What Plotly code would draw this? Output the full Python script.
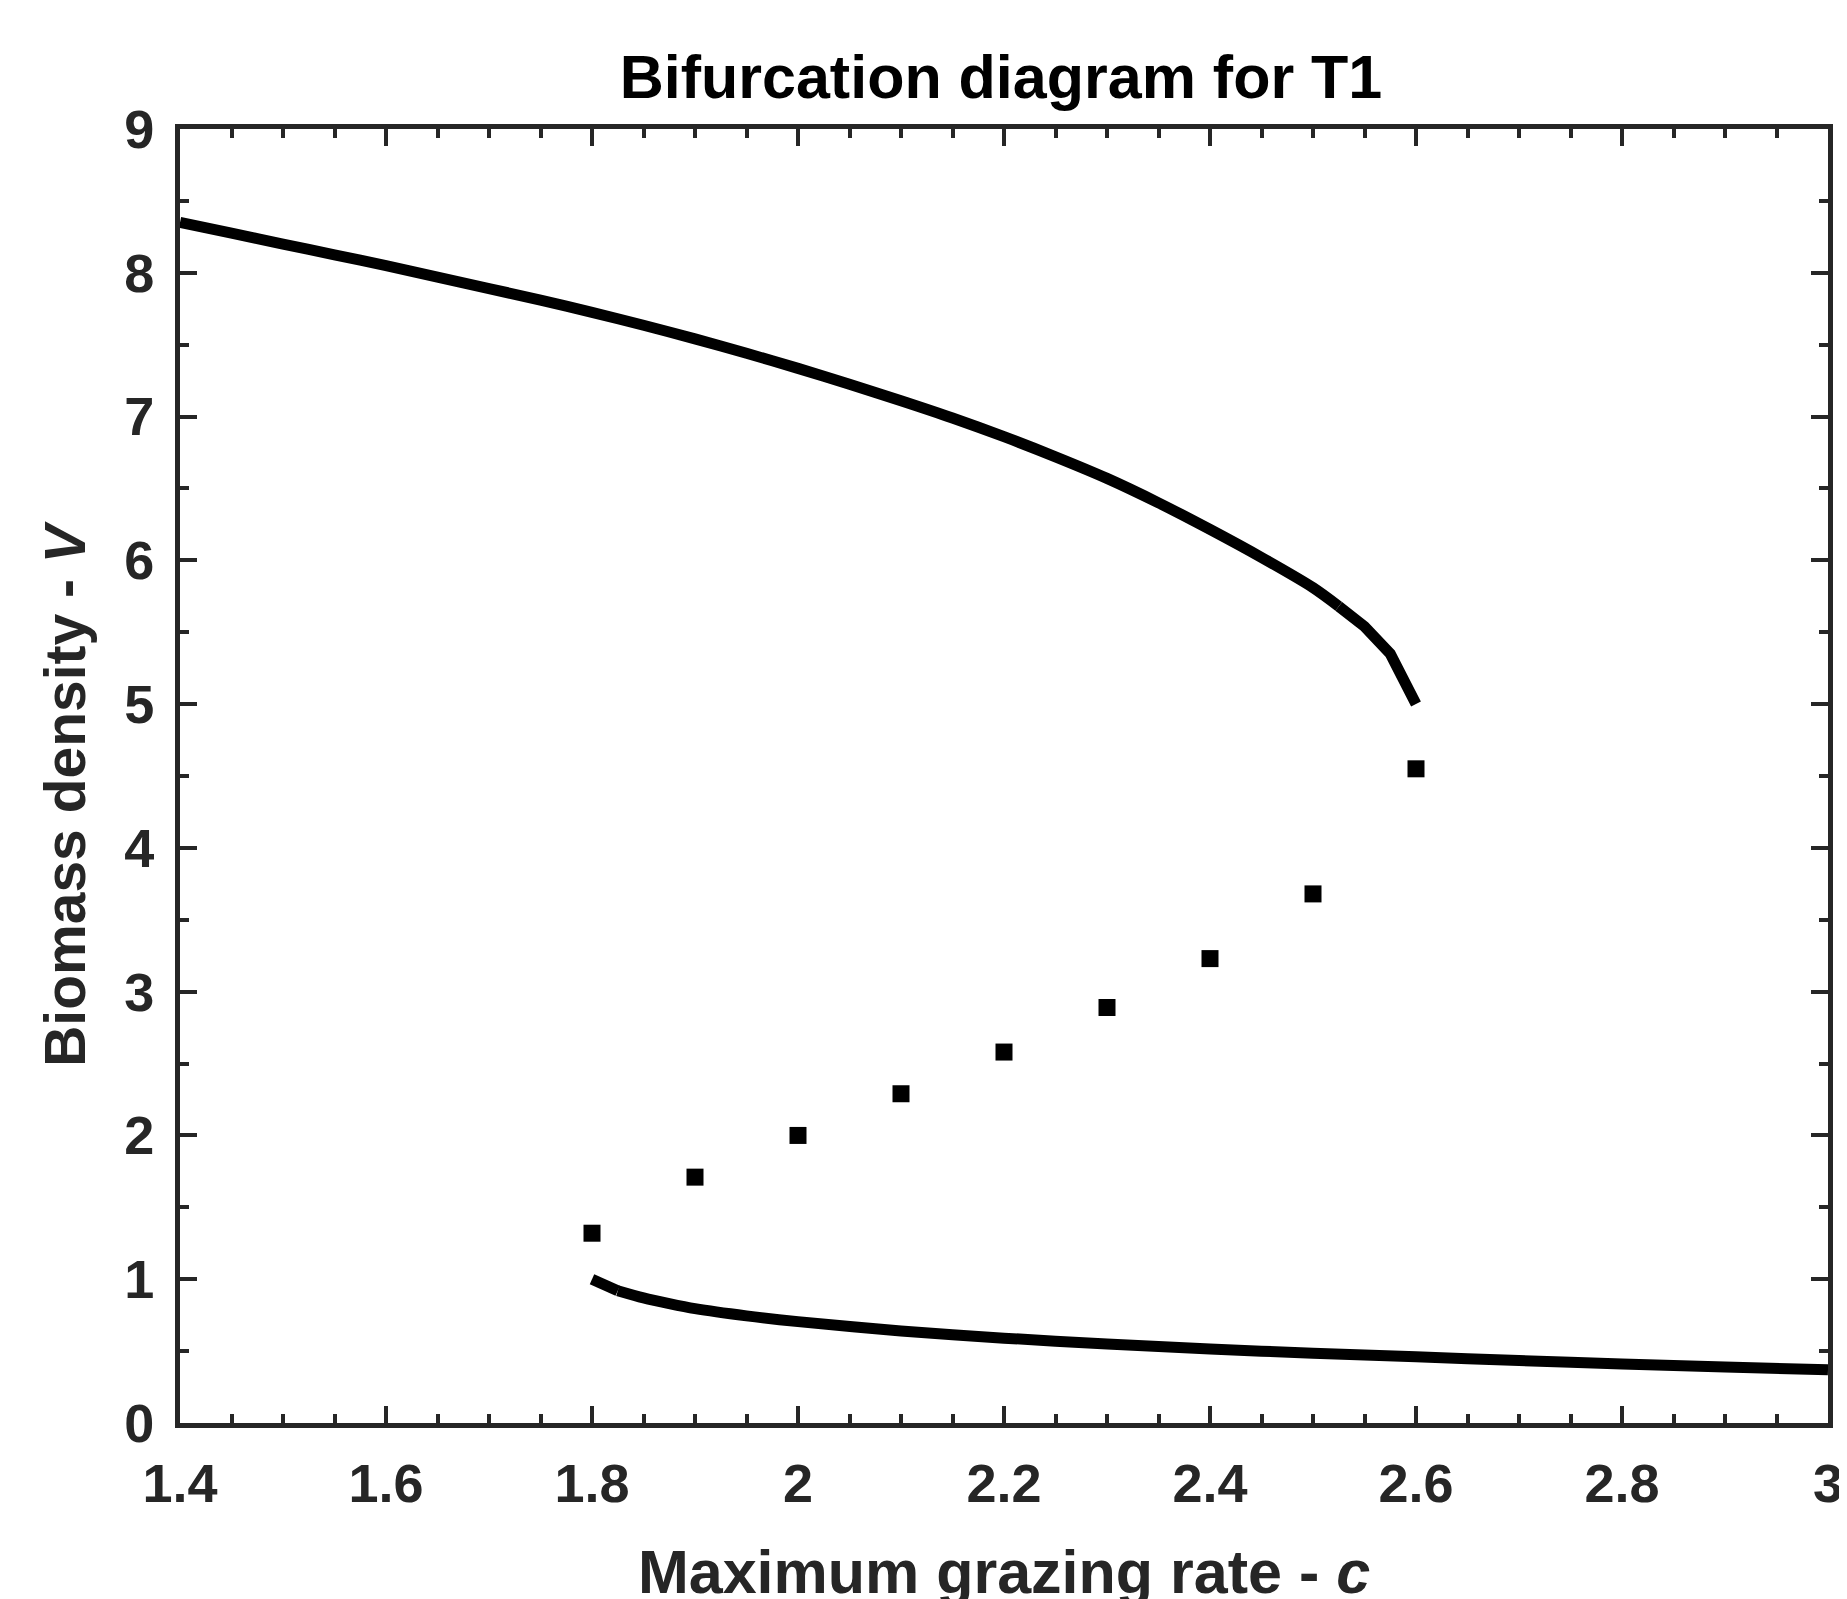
import plotly.graph_objects as go

# Stable upper branch
c_upper = [1.40, 1.45, 1.50, 1.55, 1.60, 1.65, 1.70, 1.75, 1.80, 1.85, 1.90, 1.95,
           2.00, 2.05, 2.10, 2.15, 2.20, 2.25, 2.30, 2.35, 2.40, 2.45, 2.50,
           2.525, 2.55, 2.575, 2.60]
v_upper = [8.35, 8.275, 8.20, 8.125, 8.05, 7.97, 7.89, 7.81, 7.725, 7.635, 7.54, 7.44,
           7.335, 7.225, 7.11, 6.99, 6.86, 6.72, 6.57, 6.40, 6.215, 6.02, 5.81,
           5.68, 5.54, 5.35, 5.00]

# Stable lower branch
c_lower = [1.80, 1.825, 1.85, 1.875, 1.90, 1.95, 2.00, 2.10, 2.20, 2.30, 2.40,
           2.50, 2.60, 2.70, 2.80, 2.90, 3.00]
v_lower = [1.00, 0.92, 0.87, 0.83, 0.795, 0.745, 0.705, 0.64, 0.59, 0.55, 0.515,
           0.485, 0.46, 0.435, 0.41, 0.39, 0.37]

# Unstable branch (squares)
c_unstable = [1.8, 1.9, 2.0, 2.1, 2.2, 2.3, 2.4, 2.5, 2.6]
v_unstable = [1.32, 1.71, 2.00, 2.29, 2.58, 2.89, 3.23, 3.68, 4.55]

x_ticks = [1.4, 1.6, 1.8, 2.0, 2.2, 2.4, 2.6, 2.8, 3.0]
x_ticklabels = ["1.4", "1.6", "1.8", "2", "2.2", "2.4", "2.6", "2.8", "3"]
y_ticks = [0, 1, 2, 3, 4, 5, 6, 7, 8, 9]

AX = "#262626"
FONT = "Arial, Liberation Sans, Helvetica, sans-serif"
LW = 11

W, H = 1847, 1599
L, R, T, B = 172, 12, 121, 166

fig = go.Figure()
# upper branch: smooth part, then the piecewise end near the fold
k = c_upper.index(2.525)
fig.add_trace(go.Scatter(x=c_upper[:k + 1], y=v_upper[:k + 1], mode="lines",
                         line=dict(color="black", width=LW, shape="spline", smoothing=0.8),
                         showlegend=False))
fig.add_trace(go.Scatter(x=c_upper[k:], y=v_upper[k:], mode="lines",
                         line=dict(color="black", width=LW), showlegend=False))
# lower branch: first segment straight, rest smooth
fig.add_trace(go.Scatter(x=c_lower[:2], y=v_lower[:2], mode="lines",
                         line=dict(color="black", width=LW), showlegend=False))
fig.add_trace(go.Scatter(x=c_lower[1:], y=v_lower[1:], mode="lines",
                         line=dict(color="black", width=LW, shape="spline", smoothing=0.8),
                         showlegend=False))
fig.add_trace(go.Scatter(x=c_unstable, y=v_unstable, mode="markers",
                         marker=dict(symbol="square", size=17, color="black"),
                         showlegend=False))

fig.update_layout(
    width=W, height=H,
    margin=dict(l=L, r=R, t=T, b=B),
    paper_bgcolor="white", plot_bgcolor="white",
    font=dict(family=FONT, color=AX, size=54, weight="bold"),
    title=dict(text="Bifurcation diagram for T1", x=993 / W, xref="container",
               y=1 - 69 / H, yref="container", yanchor="middle", xanchor="center",
               font=dict(family=FONT, size=61, color="black", weight="bold")),
    annotations=[dict(
        text="Biomass density - <i>V</i>", textangle=-90,
        xref="paper", yref="paper",
        x=(56 - L) / (W - L - R), y=(H - B - 795) / (H - T - B),
        xanchor="center", yanchor="middle", showarrow=False,
        font=dict(family=FONT, size=57, color=AX, weight="bold"),
    )],
)

fig.update_xaxes(
    range=[1.4, 3.0], tickvals=x_ticks, ticktext=x_ticklabels,
    showgrid=False, zeroline=False,
    showline=True, linecolor=AX, linewidth=5, mirror="ticks",
    ticks="inside", ticklen=17, tickwidth=4, tickcolor=AX,
    ticklabelstandoff=9,
    minor=dict(dtick=0.05, ticks="inside", ticklen=9, tickwidth=4, tickcolor=AX, showgrid=False),
    tickfont=dict(family=FONT, size=54, color=AX, weight="bold"),
    title=dict(text="Maximum grazing rate - <i>c</i>", standoff=40,
               font=dict(family=FONT, size=61, color=AX, weight="bold")),
)
fig.update_yaxes(
    range=[0, 9], tickvals=y_ticks,
    showgrid=False, zeroline=False,
    showline=True, linecolor=AX, linewidth=5, mirror="ticks",
    ticks="inside", ticklen=17, tickwidth=4, tickcolor=AX,
    ticklabelstandoff=10,
    minor=dict(dtick=0.5, ticks="inside", ticklen=9, tickwidth=4, tickcolor=AX, showgrid=False),
    tickfont=dict(family=FONT, size=54, color=AX, weight="bold"),
)

fig.write_html("out.html")
